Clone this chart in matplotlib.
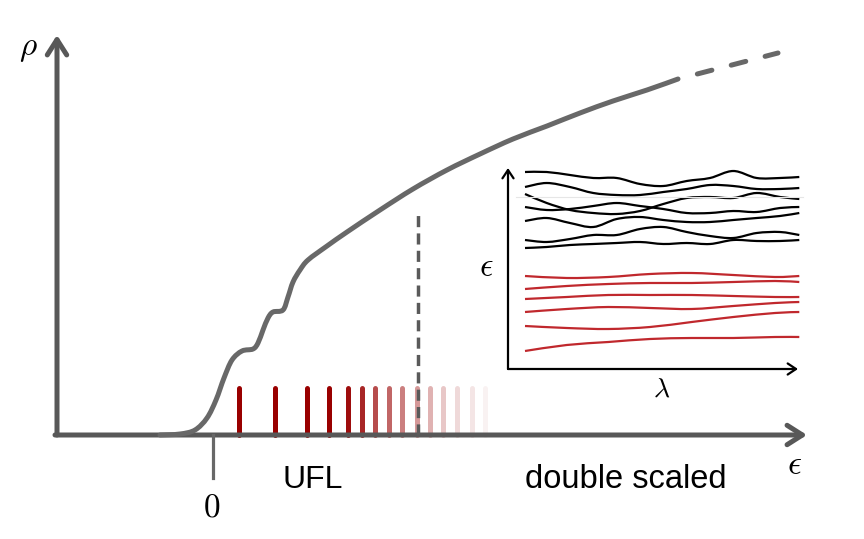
import matplotlib.pyplot as plt
import numpy as np
from matplotlib.path import Path
from matplotlib.patches import PathPatch

plt.rcParams['mathtext.fontset'] = 'cm'

# main curve rho(eps), schematic units (eps = 0 at the "0" tick)
curve_eps = [-53, -33, -18, -6, 3, 11, 19, 29, 40, 45, 50, 55, 60, 70, 75, 80, 87, 95,
             114, 134, 167, 200, 234, 267, 300, 334, 367, 400, 434, 465]
curve_rho = [0, 1, 5, 17, 35, 57, 75, 84, 86, 92, 105, 117, 123, 125, 138, 153, 165, 175,
             189, 203, 225, 246, 265, 281, 296, 309, 322, 334, 345, 356]
extra_eps = [465, 515, 565]
extra_rho = [356, 369, 382]

# UFL levels (red ticks), fading out
level_eps = [26, 62, 94, 116, 135, 149, 162, 176, 189, 204, 217, 230, 244, 259, 272]
level_alpha = [1, 1, 1, 1, 0.95, 0.85, 0.7, 0.6, 0.5, 0.4, 0.3, 0.22, 0.15, 0.1, 0.05]
level_height = 47
cut_eps = 205
cut_rho = 225

# inset: spectral flow eps(lambda)
black_lam = [17, 38.7, 62, 85.3, 108.7, 132, 155.3, 178.7, 202, 225.3, 248.7, 272, 291.3]
black_lines = [
    [197, 197, 194, 191, 191, 185, 183, 188, 191, 198, 191, 191, 192],
    [182, 186, 182, 176, 174, 174, 177, 180, 184, 183, 180, 180, 181],
    [175, 166, 159, 156, 155, 158, 165, 171, 172, 171, 176, 172, 170],
    [162, 159, 160, 163, 166, 163, 160, 156, 156, 158, 157, 161, 162],
    [148, 151, 146, 142, 150, 152, 149, 147, 147, 149, 151, 153, 156],
    [129, 127, 130, 134, 134, 140, 142, 137, 133, 131, 136, 137, 134],
    [121, 122, 124, 125, 126, 127, 125, 126, 125, 129, 128, 128, 129],
]
red_lam = [17, 58.7, 100.3, 142, 183.7, 225.3, 267, 291.3]
red_lines = [
    [93, 91, 92, 95, 96, 94, 92, 93],
    [80, 83, 85, 86, 86, 87, 88, 87],
    [70, 72, 74, 74, 74, 73, 72, 72],
    [57, 60, 62, 61, 60, 63, 66, 67],
    [43, 41, 40, 42, 47, 52, 56, 57],
    [18, 24, 27, 30, 31, 31, 32, 32],
]

axis_col = '#585858'
curve_col = '#686868'


def smooth(ax, xs, ys, **kw):
    # catmull-rom through the points, drawn as bezier segments
    p = np.column_stack([xs, ys]).astype(float)
    q = np.vstack([p[0], p, p[-1]])
    verts = [p[0]]
    codes = [Path.MOVETO]
    for i in range(len(p) - 1):
        c1 = q[i + 1] + (q[i + 2] - q[i]) / 6
        c2 = q[i + 2] - (q[i + 3] - q[i + 1]) / 6
        verts += [c1, c2, q[i + 2]]
        codes += [Path.CURVE4] * 3
    patch = PathPatch(Path(verts, codes), fill=False, **kw)
    ax.add_patch(patch)
    return patch


fig = plt.figure(figsize=(8.64, 5.39), dpi=100)
ax = fig.add_axes([0, 0, 1, 1])
ax.set_xlim(-213, 651)
ax.set_ylim(-104, 435)
ax.axis('off')

# red level ticks
for e, a in zip(level_eps, level_alpha):
    ax.vlines(e, 0, level_height, color='#990000', alpha=a, lw=3.6, capstyle='round', zorder=2)

# axes with arrows
arrow = '->,head_length=0.55,head_width=0.35'
ax.annotate('', xy=(594, 0), xytext=(-158, 0),
            arrowprops=dict(arrowstyle=arrow, lw=3.6, color=axis_col, mutation_scale=20,
                            shrinkA=0, shrinkB=0, capstyle='round', joinstyle='round'), zorder=3)
ax.annotate('', xy=(-156, 400), xytext=(-156, 0),
            arrowprops=dict(arrowstyle=arrow, lw=3.6, color=axis_col, mutation_scale=20,
                            shrinkA=0, shrinkB=0, capstyle='round', joinstyle='round'), zorder=3)
ax.plot([0, 0], [0, -43], color=curve_col, lw=2.3, zorder=3)

# curve
smooth(ax, curve_eps, curve_rho, edgecolor=curve_col, lw=3.6, capstyle='round',
       joinstyle='round', zorder=4)
ax.plot(extra_eps, extra_rho, color=curve_col, lw=3.6, linestyle=(3, (3, 4)),
        dash_capstyle='round', zorder=4)
ax.plot([cut_eps, cut_eps], [0, cut_rho], color='#5a5a5a', lw=2.5, dashes=(3.2, 1.8), zorder=4)

# labels
ax.text(-185, 387, r'$\rho$', fontsize=24, ha='center', va='center')
ax.text(582, -29, r'$\epsilon$', fontsize=25, ha='center', va='center')
ax.text(-1, -72, r'$0$', fontsize=24, ha='center', va='center')
ax.text(100, -45, 'UFL', fontsize=23, family='Liberation Sans', ha='center', va='center')
ax.text(413, -45, 'double scaled', fontsize=23.5, family='Liberation Sans', ha='center', va='center')
ax.text(273, 169, r'$\epsilon$', fontsize=24, ha='center', va='center')
ax.text(449, 46, r'$\lambda$', fontsize=20, ha='center', va='center')

# inset
ins = fig.add_axes([508 / 864, (539 - 369) / 539, 290 / 864, 201 / 539])
ins.set_xlim(0, 290)
ins.set_ylim(0, 201)
ins.axis('off')
ins.plot([8, 295], [172, 172], color='#e6e6e6', lw=0.8, clip_on=False)
for ys in black_lines:
    smooth(ins, black_lam, ys, edgecolor='black', lw=1.6, clip_on=False)
for ys in red_lines:
    smooth(ins, red_lam, ys, edgecolor='#c0282d', lw=1.6, clip_on=False)
small = '->,head_length=0.3,head_width=0.2'
ins.annotate('', xy=(290, 0), xytext=(0, 0),
             arrowprops=dict(arrowstyle=small, lw=1.6, color='black', mutation_scale=20,
                             shrinkA=0, shrinkB=0), annotation_clip=False)
ins.annotate('', xy=(0, 201), xytext=(0, 0),
             arrowprops=dict(arrowstyle=small, lw=1.6, color='black', mutation_scale=20,
                             shrinkA=0, shrinkB=0), annotation_clip=False)

fig.savefig('out.png', dpi=100)
